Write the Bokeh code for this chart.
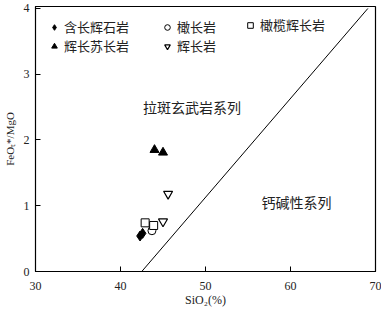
from bokeh.plotting import figure
from bokeh.models import Legend, LegendItem, Label, FixedTicker
from bokeh.embed import file_html
from bokeh.resources import INLINE

# data
cpx_sio2 = [42.3, 42.6]
cpx_ratio = [0.54, 0.58]
troct_sio2 = [43.7]
troct_ratio = [0.62]
olgab_sio2 = [42.9, 43.9]
olgab_ratio = [0.74, 0.70]
gabnor_sio2 = [44.0, 45.0]
gabnor_ratio = [1.85, 1.81]
gab_sio2 = [45.6, 45.0]
gab_ratio = [1.18, 0.76]
boundary_sio2 = [42.5, 69.1]
boundary_ratio = [0.0, 4.0]
x_ticks = [30, 40, 50, 60, 70]
y_ticks = [0, 1, 2, 3, 4]

serif = "Liberation Serif"
cjk = "Noto Sans CJK SC"

p = figure(width=381, height=309, x_range=(30, 70), y_range=(0, 4.03),
           output_backend="svg", toolbar_location=None,
           min_border_left=30, min_border_right=6, min_border_top=6, min_border_bottom=30)
p.background_fill_color = "white"
p.border_fill_color = "white"
p.xgrid.visible = False
p.ygrid.visible = False
p.outline_line_color = "black"
p.outline_line_width = 1.2

for ax in (p.xaxis[0], p.yaxis[0]):
    ax.axis_line_color = "black"
    ax.major_tick_in = 5
    ax.major_tick_out = 0
    ax.minor_tick_in = 0
    ax.minor_tick_out = 0
    ax.major_label_text_font = serif
    ax.major_label_text_font_size = "12px"
    ax.major_label_text_color = "#222222"
    ax.axis_label_text_font = serif
    ax.axis_label_text_font_size = "12px"
    ax.axis_label_text_font_style = "normal"
    ax.axis_label_text_color = "#222222"

p.xaxis.ticker = FixedTicker(ticks=x_ticks)
p.yaxis.ticker = FixedTicker(ticks=y_ticks)
p.xaxis.axis_label = "SiO₂(%)"
p.yaxis.axis_label = "FeOₜ*/MgO"
p.yaxis.axis_label_text_font_size = "11px"
p.xaxis.major_label_standoff = 10
p.xaxis.axis_label_standoff = 0
p.yaxis.major_label_standoff = 6
p.yaxis.axis_label_standoff = 5

p.line(boundary_sio2, boundary_ratio, line_color="black", line_width=1)

r1 = p.scatter(cpx_sio2, cpx_ratio, marker="diamond", size=10, fill_color="black", line_color="black")
r2 = p.scatter(troct_sio2, troct_ratio, marker="circle", size=8, fill_color="white", line_color="black", line_width=1)
r3 = p.scatter(olgab_sio2, olgab_ratio, marker="square", size=8, fill_color="white", line_color="black", line_width=1)
r4 = p.scatter(gabnor_sio2, gabnor_ratio, marker="triangle", size=9, fill_color="black", line_color="black")
r5 = p.scatter(gab_sio2, gab_ratio, marker="inverted_triangle", size=9, fill_color="white", line_color="black", line_width=1.2)


def make_legend(items, loc):
    lg = Legend(items=items, location=loc, orientation="vertical")
    lg.label_text_font = cjk
    lg.label_text_font_size = "13px"
    lg.label_text_color = "#222222"
    lg.border_line_color = None
    lg.background_fill_alpha = 0
    lg.glyph_width = 14
    lg.glyph_height = 14
    lg.label_height = 14
    lg.spacing = 0
    lg.padding = 0
    lg.margin = 0
    lg.label_standoff = 3
    return lg


p.add_layout(make_legend([LegendItem(label="含长辉石岩", renderers=[r1]),
                          LegendItem(label="辉长苏长岩", renderers=[r4])], (12, 216)))
p.add_layout(make_legend([LegendItem(label="橄长岩", renderers=[r2]),
                          LegendItem(label="辉长岩", renderers=[r5])], (125, 216)))
p.add_layout(make_legend([LegendItem(label="橄榄辉长岩", renderers=[r3])], (208, 237)))

p.add_layout(Label(x=48.4, y=2.5, text="拉斑玄武岩系列", text_font=cjk, text_font_size="14px",
                   text_align="center", text_baseline="middle", text_color="#222222"))
p.add_layout(Label(x=60.7, y=1.06, text="钙碱性系列", text_font=cjk, text_font_size="14px",
                   text_align="center", text_baseline="middle", text_color="#222222"))

open("out.html", "w").write(file_html(p, INLINE))
